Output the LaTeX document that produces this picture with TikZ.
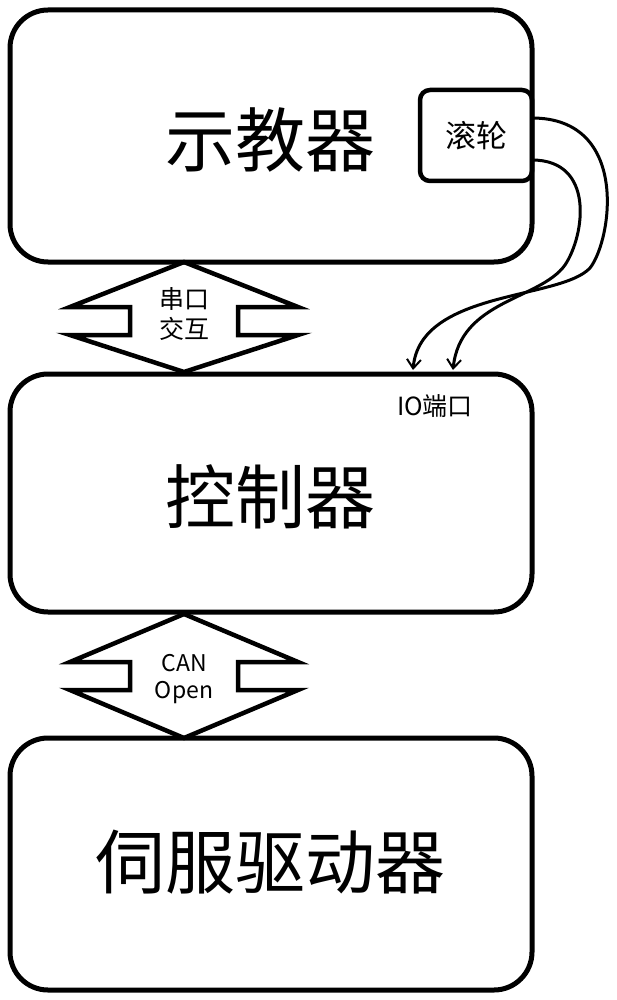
\documentclass[tikz,border=0pt]{standalone}
\usepackage{fontspec}
\setmainfont{Noto Sans CJK SC}
\usetikzlibrary{arrows.meta}
\begin{document}
\begin{tikzpicture}[x=1pt,y=-1pt,
  blk/.style={draw,line width=5pt,rounded corners=38pt},
  dbl/.style={draw,line width=4.5pt,line join=miter},
  big/.style={font=\fontsize{70}{70}\selectfont},
  sml/.style={font=\fontsize{25}{26}\selectfont},
  wire/.style={line width=3pt,-{Straight Barb[length=9pt,width=14pt,line width=2pt]}}]
\useasboundingbox (0,0) rectangle (616,1000);
\draw[blk] (10,10) rectangle (532,262);
\draw[blk] (10,374) rectangle (532,612);
\draw[blk] (10,738) rectangle (532,990);
\node[big] (t1) at (270,140) {示教器};
\node[big] (t2) at (270,497) {控制器};
\node[big] (t3) at (270,862) {伺服驱动器};
\draw[line width=4.5pt,rounded corners=10pt] (420,90) rectangle (532,181);
\node[font=\fontsize{31}{31}\selectfont] (w) at (476,136) {滚轮};
\coordinate (wa) at (532,118);
\coordinate (wb) at (532,160);
\coordinate (ia) at (413,370);
\coordinate (ib) at (453,370);
\draw[wire] (wa) .. controls (630,118) and (612,240) .. (590,268) .. controls (560,300) and (420,290) .. (ia);
\draw[wire] (wb) .. controls (595,160) and (585,235) .. (565,265) .. controls (540,300) and (460,300) .. (ib);
\node[sml] (io) at (435,406) {IO端口};
\draw[dbl] (184,262) -- (298,307) -- (238,307) -- (238,335) -- (298,335) -- (184,372) -- (70,335) -- (130,335) -- (130,307) -- (70,307) -- cycle;
\node[sml,align=center] (s1) at (184,314) {串口\\[4pt]交互};
\draw[dbl] (184,614) -- (298,662) -- (238,662) -- (238,690) -- (298,690) -- (184,738) -- (70,690) -- (130,690) -- (130,662) -- (70,662) -- cycle;
\node[sml,align=center,font=\fontsize{23}{25}\selectfont] (s2) at (184,679) {CAN\\[2pt]Open};
\end{tikzpicture}
\end{document}
